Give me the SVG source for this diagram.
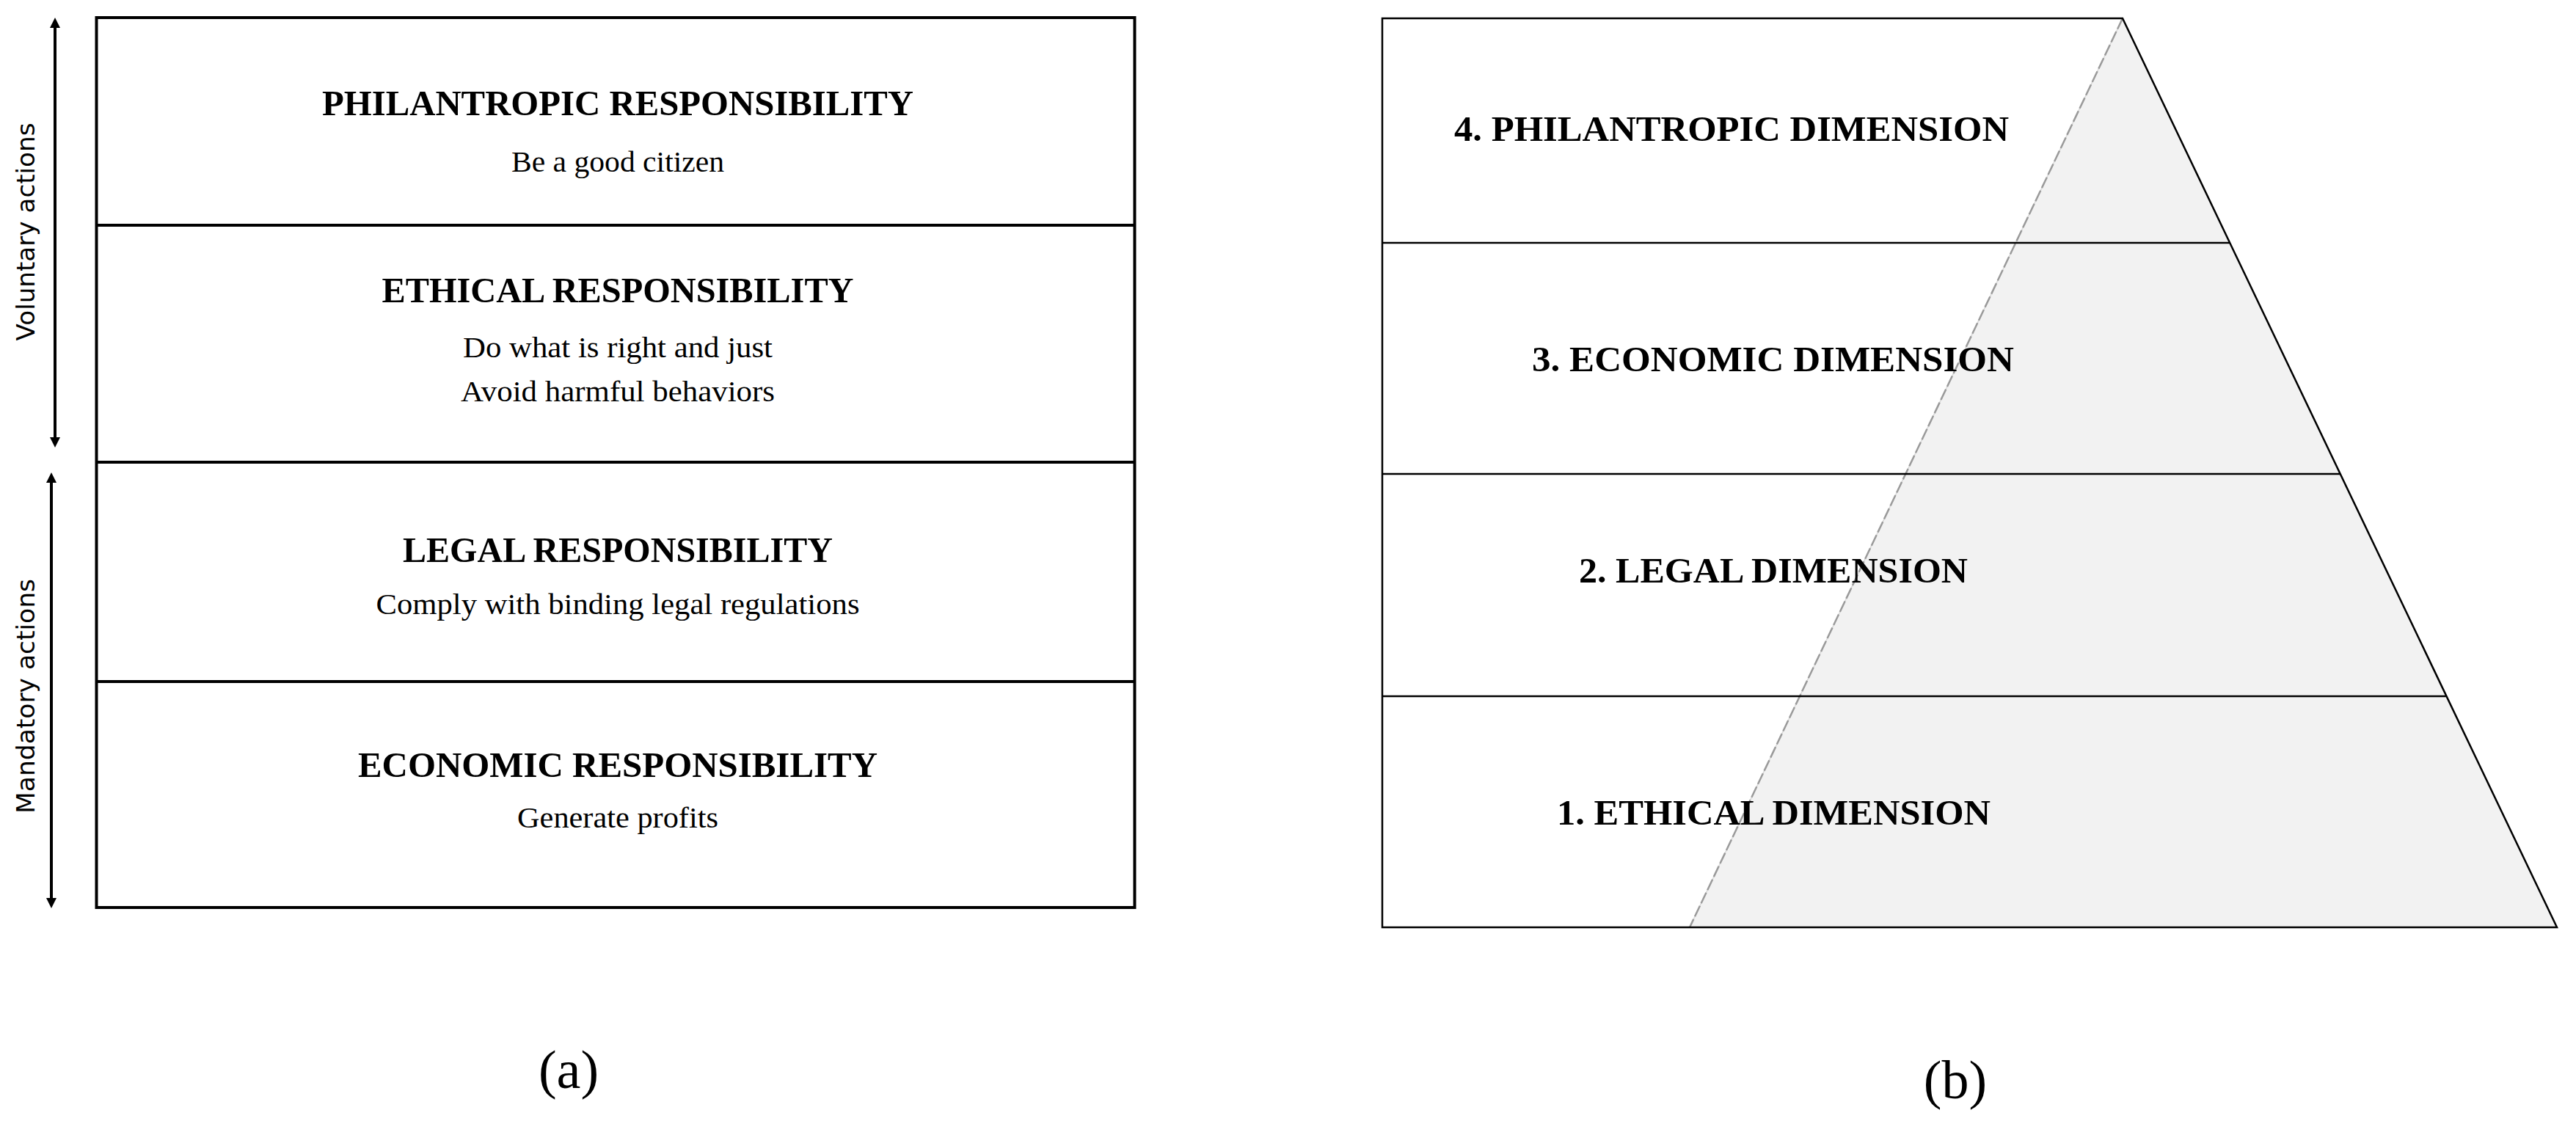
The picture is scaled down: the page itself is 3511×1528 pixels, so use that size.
<svg xmlns="http://www.w3.org/2000/svg" width="3511" height="1528" viewBox="0 0 3511 1528">
<style>
.title{font-family:"Liberation Serif","Times New Roman",serif;font-weight:bold;font-size:49px;fill:#000;text-anchor:middle}
.sub{font-family:"Liberation Serif","Times New Roman",serif;font-size:41px;fill:#000;text-anchor:middle}
.dim{font-family:"Liberation Serif","Times New Roman",serif;font-weight:bold;font-size:48px;fill:#000}
.side{font-family:"DejaVu Sans",Verdana,sans-serif;font-size:34px;fill:#000;text-anchor:middle}
.cap{font-family:"Liberation Serif","Times New Roman",serif;font-size:74px;fill:#000;text-anchor:middle}
.boxline{fill:none;stroke:#000;stroke-width:4}
.pyline{fill:none;stroke:#000;stroke-width:2.5}
.arrow{fill:none;stroke:#000;stroke-width:4;marker-start:url(#ah);marker-end:url(#ah)}
</style>
<defs>
<marker id="ah" viewBox="0 0 14 14" refX="0" refY="7" markerWidth="14" markerHeight="14" markerUnits="userSpaceOnUse" orient="auto-start-reverse">
<path d="M0,0 L14,7 L0,14 Z" fill="#000"/>
</marker>
</defs>
<rect width="3511" height="1528" fill="#fff"/>

<!-- Panel (a) -->
<g id="panel-a">
<rect class="boxline" x="131.5" y="24" width="1415" height="1213"/>
<line class="boxline" x1="131.5" y1="307" x2="1546.5" y2="307"/>
<line class="boxline" x1="131.5" y1="630" x2="1546.5" y2="630"/>
<line class="boxline" x1="131.5" y1="929" x2="1546.5" y2="929"/>
</g>
<g id="node-philantropic">
<text class="title" x="842" y="157" textLength="806" lengthAdjust="spacingAndGlyphs">PHILANTROPIC RESPONSIBILITY</text>
<text class="sub" x="842" y="234" textLength="290" lengthAdjust="spacingAndGlyphs">Be a good citizen</text>
</g>
<g id="node-ethical">
<text class="title" x="842" y="412" textLength="643" lengthAdjust="spacingAndGlyphs">ETHICAL RESPONSIBILITY</text>
<text class="sub" x="842" y="487" textLength="422" lengthAdjust="spacingAndGlyphs">Do what is right and just</text>
<text class="sub" x="842" y="547" textLength="428" lengthAdjust="spacingAndGlyphs">Avoid harmful behaviors</text>
</g>
<g id="node-legal">
<text class="title" x="842" y="766" textLength="586" lengthAdjust="spacingAndGlyphs">LEGAL RESPONSIBILITY</text>
<text class="sub" x="842" y="837" textLength="659" lengthAdjust="spacingAndGlyphs">Comply with binding legal regulations</text>
</g>
<g id="node-economic">
<text class="title" x="842" y="1059" textLength="708" lengthAdjust="spacingAndGlyphs">ECONOMIC RESPONSIBILITY</text>
<text class="sub" x="842" y="1128" textLength="274" lengthAdjust="spacingAndGlyphs">Generate profits</text>
</g>
<g id="connectors">
<line class="arrow" x1="75" y1="38" x2="75" y2="596"/>
<line class="arrow" x1="70" y1="658" x2="70" y2="1224"/>
</g>
<g id="label-voluntary">
<text class="side" transform="translate(47,316) rotate(-90)" x="0" y="0" textLength="297" lengthAdjust="spacingAndGlyphs">Voluntary actions</text>
</g>
<g id="label-mandatory">
<text class="side" transform="translate(47,949) rotate(-90)" x="0" y="0" textLength="320" lengthAdjust="spacingAndGlyphs">Mandatory actions</text>
</g>
<g id="caption-a">
<text class="cap" x="775" y="1483">(a)</text>
</g>

<!-- Panel (b) -->
<g id="panel-b">
<polygon points="2893,25 2303,1264 3485,1264" fill="#f2f2f2" stroke="#d6d6d6" stroke-width="1.5"/>
<line x1="2893" y1="25" x2="2303" y2="1264" stroke="#9a9a9a" stroke-width="2.5" stroke-dasharray="16 4"/>
<path class="pyline" d="M2893,25 L1884,25 L1884,1264 L3485,1264 Z"/>
<line class="pyline" x1="1884" y1="331" x2="3039" y2="331"/>
<line class="pyline" x1="1884" y1="646" x2="3190" y2="646"/>
<line class="pyline" x1="1884" y1="949" x2="3334" y2="949"/>
</g>
<g id="node-dim4">
<text class="dim" x="1982" y="192" textLength="756" lengthAdjust="spacingAndGlyphs">4. PHILANTROPIC DIMENSION</text>
</g>
<g id="node-dim3">
<text class="dim" x="2088" y="506" textLength="657" lengthAdjust="spacingAndGlyphs">3. ECONOMIC DIMENSION</text>
</g>
<g id="node-dim2">
<text class="dim" x="2152" y="794" textLength="530" lengthAdjust="spacingAndGlyphs">2. LEGAL DIMENSION</text>
</g>
<g id="node-dim1">
<text class="dim" x="2122" y="1124" textLength="591" lengthAdjust="spacingAndGlyphs">1. ETHICAL DIMENSION</text>
</g>
<g id="caption-b">
<text class="cap" x="2665" y="1497">(b)</text>
</g>
</svg>
